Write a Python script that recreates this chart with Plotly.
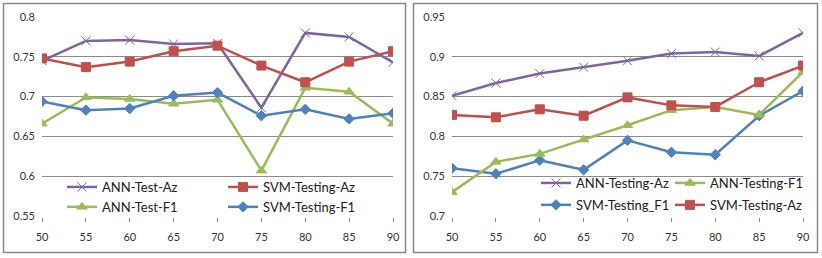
import plotly.graph_objects as go

x_vals = [50, 55, 60, 65, 70, 75, 80, 85, 90]

# Left chart
left_ann_az = [0.745, 0.770, 0.771, 0.766, 0.767, 0.686, 0.780, 0.775, 0.743]
left_svm_az = [0.748, 0.737, 0.744, 0.757, 0.764, 0.739, 0.718, 0.744, 0.757]
left_ann_f1 = [0.666, 0.699, 0.697, 0.691, 0.696, 0.607, 0.711, 0.706, 0.666]
left_svm_f1 = [0.694, 0.683, 0.685, 0.701, 0.705, 0.676, 0.684, 0.672, 0.679]

# Right chart
right_ann_az = [0.851, 0.867, 0.879, 0.887, 0.895, 0.904, 0.906, 0.901, 0.930]
right_svm_az = [0.827, 0.824, 0.834, 0.826, 0.849, 0.839, 0.837, 0.868, 0.889]
right_ann_f1 = [0.730, 0.768, 0.778, 0.796, 0.814, 0.833, 0.837, 0.827, 0.881]
right_svm_f1 = [0.760, 0.753, 0.770, 0.758, 0.795, 0.780, 0.777, 0.826, 0.857]

PURPLE = "#8064A2"
RED = "#C0504D"
GREEN = "#9BBB59"
BLUE = "#4F81BD"

W, H = 822, 258
FONT = "Lato"

def px_x(p):
    return p / W

def px_y(p):
    return 1 - p / H

fig = go.Figure()

def add(xa, ya, y, name, color, symbol, size, legend):
    fig.add_trace(go.Scatter(
        x=x_vals, y=y, name=name, mode="lines+markers",
        xaxis=xa, yaxis=ya, legend=legend, legendgroup=name,
        line=dict(color=color, width=2.5),
        marker=dict(color=color, symbol=symbol, size=size,
                    line=dict(color=color, width=1)),
    ))

add("x", "y", left_ann_az, "ANN-Test-Az", PURPLE, "x-thin", 9, "legend")
add("x", "y", left_ann_f1, "ANN-Test-F1", GREEN, "triangle-up", 9, "legend")
add("x", "y", left_svm_az, "SVM-Testing-Az", RED, "square", 9, "legend2")
add("x", "y", left_svm_f1, "SVM-Testing-F1", BLUE, "diamond", 8, "legend2")

add("x2", "y2", right_ann_az, "ANN-Testing-Az", PURPLE, "x-thin", 9, "legend3")
add("x2", "y2", right_svm_f1, "SVM-Testing_F1", BLUE, "diamond", 8, "legend3")
add("x2", "y2", right_ann_f1, "ANN-Testing-F1", GREEN, "triangle-up", 9, "legend4")
add("x2", "y2", right_svm_az, "SVM-Testing-Az", RED, "square", 9, "legend4")

xaxis_common = dict(
    range=[50, 90], tickmode="array", tickvals=x_vals, ticktext=[str(v) for v in x_vals],
    showgrid=False, zeroline=False, ticks="outside", ticklen=4, tickcolor="#888888",
    showline=True, linecolor="white", linewidth=2,
    tickfont=dict(family=FONT, size=11, color="#333333"), ticklabelstandoff=6,
    automargin=False, fixedrange=True,
)
yaxis_common = dict(
    showgrid=True, gridcolor="#8c8c8c", gridwidth=1, zeroline=False, showline=False,
    tickfont=dict(family=FONT, size=11, color="#333333"), ticklabelstandoff=6,
    automargin=False, fixedrange=True,
)

plot_top = px_y(17)
plot_bot = px_y(216)

legend_common = dict(
    font=dict(family=FONT, size=13, color="#222222"),
    bgcolor="rgba(0,0,0,0)", borderwidth=0, orientation="v",
    xanchor="left", yanchor="top", itemwidth=30,
)

fig.update_layout(
    width=W, height=H,
    margin=dict(l=0, r=0, t=0, b=0),
    paper_bgcolor="white", plot_bgcolor="white",
    showlegend=True,
    xaxis=dict(domain=[px_x(42), px_x(393)], anchor="y", **xaxis_common),
    yaxis=dict(domain=[plot_bot, plot_top], anchor="x", range=[0.55, 0.8], dtick=0.05,
               tickformat="", **yaxis_common),
    xaxis2=dict(domain=[px_x(452), px_x(803)], anchor="y2", **xaxis_common),
    yaxis2=dict(domain=[plot_bot, plot_top], anchor="x2", range=[0.7, 0.95], dtick=0.05,
                **yaxis_common),
    legend=dict(x=px_x(62), y=px_y(172), tracegroupgap=0, **legend_common),
    legend2=dict(x=px_x(223), y=px_y(172), tracegroupgap=0, **legend_common),
    legend3=dict(x=px_x(536), y=px_y(168), tracegroupgap=2, **legend_common),
    legend4=dict(x=px_x(670), y=px_y(168), tracegroupgap=2, **legend_common),
    shapes=[
        dict(type="rect", xref="paper", yref="paper",
             x0=px_x(3.5), x1=px_x(405.5), y0=px_y(252.5), y1=px_y(3.5),
             line=dict(color="#8a8a8a", width=1.5), fillcolor="rgba(0,0,0,0)", layer="below"),
        dict(type="rect", xref="paper", yref="paper",
             x0=px_x(413.5), x1=px_x(817.5), y0=px_y(252.5), y1=px_y(3.5),
             line=dict(color="#8a8a8a", width=1.5), fillcolor="rgba(0,0,0,0)", layer="below"),
    ],
)

fig.write_html("out.html")
